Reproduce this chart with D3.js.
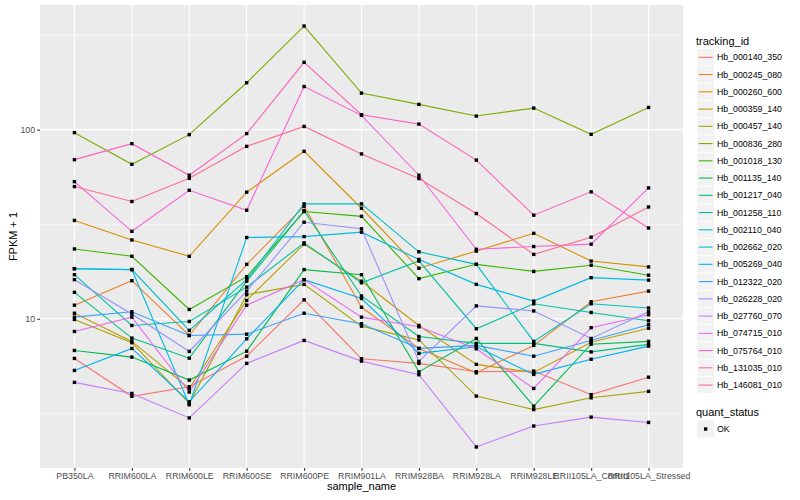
<!DOCTYPE html>
<html>
<head>
<meta charset="utf-8">
<script src="https://cdn.jsdelivr.net/npm/d3@7"></script>
<style>
    body { margin: 0; background: #fff; }
    svg { font-family: "Liberation Sans", Arial, Helvetica, sans-serif; }
</style>
</head>
<body>
<svg width="800" height="500"></svg>
<script>
const samples = ["PB350LA", "RRIM600LA", "RRIM600LE", "RRIM600SE", "RRIM600PE", "RRIM901LA",
    "RRIM928BA", "RRIM928LA", "RRIM928LE", "RRII105LA_Control", "RRII105LA_Stressed"];

const trackingIds = ["Hb_000140_350", "Hb_000245_080", "Hb_000260_600", "Hb_000359_140", "Hb_000457_140",
    "Hb_000836_280", "Hb_001018_130", "Hb_001135_140", "Hb_001217_040", "Hb_001258_110",
    "Hb_002110_040", "Hb_002662_020", "Hb_005269_040", "Hb_012322_020", "Hb_026228_020",
    "Hb_027760_070", "Hb_074715_010", "Hb_075764_010", "Hb_131035_010", "Hb_146081_010"];

// FPKM + 1, one value per sample
const hb_000140_350 = [6.17, 3.89, 4.37, 6.34, 12.6, 6.15, 5.81, 5.25, 5.29, 3.97, 4.91];
const hb_000245_080 = [11.8, 15.9, 8.16, 19.4, 39.3, 11.5, 6.97, 5.18, 7.23, 12.3, 14.0];
const hb_000260_600 = [33.1, 26.1, 21.4, 46.7, 76.8, 38.4, 18.5, 22.8, 28.3, 20.2, 18.8];
const hb_000359_140 = [10.7, 7.59, 4.28, 12.5, 24.8, 15.8, 9.22, 5.74, 5.20, 7.52, 8.91];
const hb_000457_140 = [9.92, 7.47, 3.57, 13.4, 15.2, 9.14, 7.73, 3.90, 3.31, 3.82, 4.13];
const hb_000836_280 = [96.4, 65.6, 94.1, 177, 353, 156, 136, 118, 130, 94.5, 131];
const hb_001018_130 = [23.4, 21.4, 11.2, 16.7, 36.9, 34.8, 16.3, 19.4, 17.8, 19.2, 17.0];
const hb_001135_140 = [6.80, 6.27, 4.74, 6.74, 18.2, 17.1, 5.24, 7.87, 3.45, 7.34, 7.59];
const hb_001217_040 = [13.8, 7.90, 6.19, 15.8, 37.3, 13.2, 8.06, 7.41, 7.41, 6.68, 7.32];
const hb_001258_110 = [17.1, 9.22, 9.68, 14.7, 25.2, 15.5, 20.2, 8.86, 12.0, 10.8, 9.76];
const hb_002110_040 = [18.4, 18.2, 8.68, 16.1, 40.5, 40.5, 22.6, 19.4, 7.59, 12.0, 11.4];
const hb_002662_020 = [18.4, 18.2, 3.51, 26.9, 27.2, 28.7, 20.6, 15.2, 12.4, 16.5, 16.0];
const hb_005269_040 = [5.33, 6.97, 3.64, 7.84, 16.1, 12.8, 6.56, 7.11, 5.08, 6.11, 7.17];
const hb_012322_020 = [10.2, 10.9, 8.16, 8.29, 10.7, 9.41, 6.97, 7.23, 6.34, 7.68, 9.30];
const hb_026228_020 = [16.1, 10.6, 6.72, 14.0, 32.4, 29.9, 5.95, 11.7, 11.0, 7.87, 10.9];
const hb_027760_070 = [4.61, 4.03, 2.99, 5.81, 7.68, 5.97, 5.06, 2.10, 2.71, 3.02, 2.83];
const hb_074715_010 = [8.57, 10.2, 4.10, 11.8, 16.1, 10.2, 9.07, 6.94, 4.28, 8.97, 10.5];
const hb_075764_010 = [53.1, 29.0, 47.8, 37.5, 169, 119, 57.4, 23.3, 24.1, 24.8, 49.2];
const hb_131035_010 = [69.4, 84.3, 57.4, 95.3, 227, 120, 107, 69.0, 35.3, 46.9, 30.2];
const hb_146081_010 = [50.0, 41.7, 55.3, 81.6, 104, 74.4, 55.1, 36.0, 21.9, 27.0, 39.0];

const series = [hb_000140_350, hb_000245_080, hb_000260_600, hb_000359_140, hb_000457_140,
    hb_000836_280, hb_001018_130, hb_001135_140, hb_001217_040, hb_001258_110,
    hb_002110_040, hb_002662_020, hb_005269_040, hb_012322_020, hb_026228_020,
    hb_027760_070, hb_074715_010, hb_075764_010, hb_131035_010, hb_146081_010];

const yTicks = [10, 100];
const yMinor = [10 ** 0.5, 10 ** 1.5, 10 ** 2.5];
const quantStatus = ["OK"];

// ggplot default hue palette for 20 levels
const palette = ["#F8766D", "#EA8331", "#D89000", "#C09B00", "#A3A500", "#7CAE00", "#39B600", "#00BB4E",
    "#00BF7D", "#00C1A3", "#00BFC4", "#00BAE0", "#00B0F6", "#35A2FF", "#9590FF", "#C77CFF",
    "#E76BF3", "#FA62DB", "#FF62BC", "#FF6C90"];

const width = 800;
const height = 500;
const margin = { top: 5, right: 117, bottom: 32, left: 40 };

const svg = d3.select("svg");

const x = d3.scalePoint()
    .domain(samples)
    .range([margin.left, width - margin.right])
    .padding(0.6);

const all = series.flat();
const lo = Math.log10(d3.min(all));
const hi = Math.log10(d3.max(all));
const pad = (hi - lo) * 0.05;

const y = d3.scaleLog()
    .domain([10 ** (lo - pad), 10 ** (hi + pad)])
    .range([height - margin.bottom, margin.top]);

const color = d3.scaleOrdinal().domain(trackingIds).range(palette);

// panel
svg.append("rect")
    .attr("x", margin.left)
    .attr("y", margin.top)
    .attr("width", width - margin.right - margin.left)
    .attr("height", height - margin.bottom - margin.top)
    .attr("fill", "#EBEBEB");

const grid = svg.append("g").attr("stroke", "#fff").attr("fill", "none");

grid.selectAll(".minor")
    .data(yMinor)
    .join("line")
    .attr("x1", margin.left)
    .attr("x2", width - margin.right)
    .attr("y1", d => y(d))
    .attr("y2", d => y(d))
    .attr("stroke-width", 0.55);

grid.selectAll(".major")
    .data(yTicks)
    .join("line")
    .attr("x1", margin.left)
    .attr("x2", width - margin.right)
    .attr("y1", d => y(d))
    .attr("y2", d => y(d))
    .attr("stroke-width", 1.1);

grid.selectAll(".vert")
    .data(samples)
    .join("line")
    .attr("x1", d => x(d))
    .attr("x2", d => x(d))
    .attr("y1", margin.top)
    .attr("y2", height - margin.bottom)
    .attr("stroke-width", 1.1);

// lines
const line = d3.line()
    .x((d, i) => x(samples[i]))
    .y(d => y(d));

svg.append("g")
    .attr("fill", "none")
    .attr("stroke-width", 1.1)
    .selectAll("path")
    .data(series)
    .join("path")
    .attr("stroke", (d, i) => color(trackingIds[i]))
    .attr("d", line);

// points
const pts = series.flatMap(s => s.map((v, i) => ({ sample: samples[i], v })));
const ps = 3.4;

svg.append("g")
    .selectAll("rect")
    .data(pts)
    .join("rect")
    .attr("x", d => x(d.sample) - ps / 2)
    .attr("y", d => y(d.v) - ps / 2)
    .attr("width", ps)
    .attr("height", ps)
    .attr("fill", "#000");

// axes
const yAxis = g => g
    .attr("transform", `translate(${margin.left},0)`)
    .call(d3.axisLeft(y).tickValues(yTicks).tickFormat(d3.format("d")).tickSize(2.75).tickPadding(2.2))
    .call(g => g.select(".domain").remove());

const xAxis = g => g
    .attr("transform", `translate(0,${height - margin.bottom})`)
    .call(d3.axisBottom(x).tickSize(2.75).tickPadding(2.2))
    .call(g => g.select(".domain").remove());

svg.append("g").call(yAxis);
svg.append("g").call(xAxis);

svg.selectAll(".tick line").attr("stroke", "#333333").attr("stroke-width", 1.1);
svg.selectAll(".tick text")
    .attr("fill", "#4D4D4D")
    .style("font-size", "8.8px")
    .style("font-family", "'Liberation Sans', Arial, sans-serif");

// axis titles
svg.append("text")
    .attr("x", (margin.left + width - margin.right) / 2)
    .attr("y", 490)
    .attr("text-anchor", "middle")
    .attr("font-size", 11)
    .text("sample_name");

svg.append("text")
    .attr("transform", `translate(13,${(margin.top + height - margin.bottom) / 2}) rotate(-90)`)
    .attr("text-anchor", "middle")
    .attr("dominant-baseline", "central")
    .attr("font-size", 11)
    .text("FPKM + 1");

// legend
const keySize = 17.25;
const legend = svg.append("g").attr("transform", "translate(697,0)");

legend.append("text")
    .attr("x", -1)
    .attr("y", 40.7)
    .attr("dominant-baseline", "central")
    .attr("font-size", 11)
    .text("tracking_id");

const key = legend.selectAll(".key")
    .data(trackingIds)
    .join("g")
    .attr("transform", (d, i) => `translate(0,${48.7 + i * keySize})`);

key.append("rect")
    .attr("width", keySize)
    .attr("height", keySize)
    .attr("fill", "#F2F2F2")
    .attr("stroke", "#fff")
    .attr("stroke-width", 0.6);

key.append("line")
    .attr("x1", 1.7)
    .attr("x2", keySize - 1.7)
    .attr("y1", keySize / 2)
    .attr("y2", keySize / 2)
    .attr("stroke", d => color(d))
    .attr("stroke-width", 1.1);

key.append("text")
    .attr("x", keySize + 2.7)
    .attr("y", keySize / 2)
    .attr("dominant-baseline", "central")
    .attr("font-size", 8.8)
    .text(d => d);

legend.append("text")
    .attr("x", -1)
    .attr("y", 412)
    .attr("dominant-baseline", "central")
    .attr("font-size", 11)
    .text("quant_status");

const qkey = legend.selectAll(".qkey")
    .data(quantStatus)
    .join("g")
    .attr("transform", (d, i) => `translate(0,${420.4 + i * keySize})`);

qkey.append("rect")
    .attr("width", keySize)
    .attr("height", keySize)
    .attr("fill", "#F2F2F2");

qkey.append("rect")
    .attr("x", keySize / 2 - ps / 2)
    .attr("y", keySize / 2 - ps / 2)
    .attr("width", ps)
    .attr("height", ps)
    .attr("fill", "#000");

qkey.append("text")
    .attr("x", keySize + 2.7)
    .attr("y", keySize / 2)
    .attr("dominant-baseline", "central")
    .attr("font-size", 8.8)
    .text(d => d);
</script>
</body>
</html>
